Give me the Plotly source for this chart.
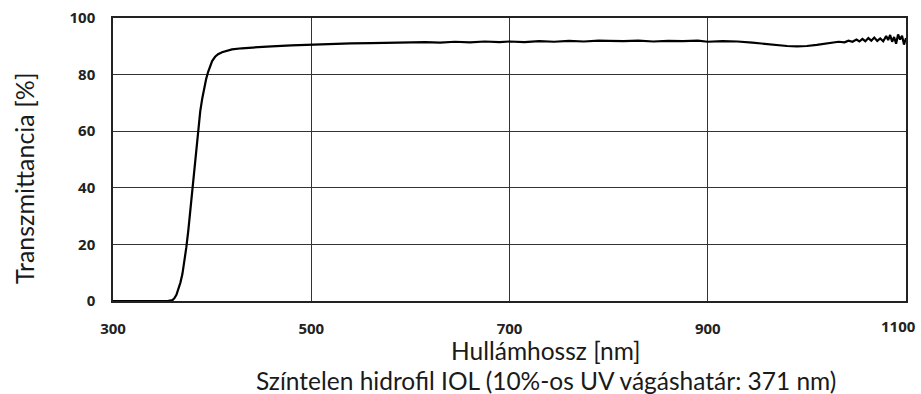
import plotly.graph_objects as go

wavelength = [300, 320, 340, 355, 360, 362, 364, 366, 368, 370, 372, 374, 376, 378, 380, 382, 384, 386,
              388, 390, 392, 394, 396, 398, 400, 403, 406, 410, 415, 420, 430, 440, 460, 480, 500,
              520, 540, 560, 580, 600, 615, 630, 645, 660, 675, 690, 700, 715, 730, 745, 760, 775, 790,
              800, 815, 830, 845, 860, 875, 890, 900, 915, 930, 945, 960, 970, 980, 990, 1000, 1010,
              1020, 1026, 1032, 1038, 1042, 1046, 1050, 1053, 1056, 1059, 1062, 1065, 1068, 1071,
              1074, 1077, 1080, 1082, 1084, 1086, 1088, 1090, 1092, 1094, 1096, 1098, 1100]
transmittance = [0, 0, 0, 0, 0.3, 1.0, 2.2, 4.0, 6.5, 9.5, 13.5, 19, 25, 32, 40, 48, 55, 61.5,
                 67, 71.5, 75.5, 78.5, 81, 83, 84.8, 86.3, 87.2, 87.9, 88.5, 88.9, 89.3, 89.6, 90.0, 90.3, 90.6,
                 90.8, 91.0, 91.1, 91.3, 91.4, 91.5, 91.3, 91.6, 91.4, 91.7, 91.5, 91.7, 91.5, 91.8, 91.6, 91.9, 91.7, 92.0,
                 91.9, 91.8, 92.0, 91.7, 91.9, 91.8, 92.0, 91.6, 91.8, 91.7, 91.3, 90.8, 90.4, 90.1, 90.0, 90.1, 90.5,
                 91.0, 91.3, 91.6, 91.4, 92.0, 91.6, 92.4, 91.7, 92.6, 91.8, 92.9, 92.0, 93.1, 91.9,
                 92.8, 91.8, 93.6, 92.2, 94.0, 91.6, 93.3, 90.9, 94.2, 92.4, 93.7, 90.6, 92.9]

x_ticks = [300, 500, 700, 900, 1100]
y_ticks = [0, 20, 40, 60, 80, 100]
x_ticktext = ["300", "500", "700", "900", ""]
last_x_label = "1100"
y_ticktext = ["0", "20", "40", "60", "80", "100"]

x_title = "Hullámhossz [nm]"
y_title = "Transzmittancia [%]"
caption = "Színtelen hidrofil IOL (10%-os UV vágáshatár: 371 nm)"

fig = go.Figure()
fig.add_trace(go.Scatter(x=wavelength, y=transmittance, mode="lines",
                         line=dict(color="black", width=2.2), hoverinfo="skip"))

tick_font = dict(family="Open Sans, DejaVu Sans, sans-serif", size=15, color="#222222", weight="bold")
title_font = dict(family="Lato, Open Sans, sans-serif", size=24.5, color="#1a1a1a")
ytitle_font = dict(family="Lato, Open Sans, sans-serif", size=25, color="#1a1a1a")

cx = (546 - 113) / 793

fig.update_layout(
    width=921, height=394,
    margin=dict(l=113, r=15, t=18, b=93, autoexpand=False),
    paper_bgcolor="white", plot_bgcolor="white",
    showlegend=False,
    xaxis=dict(range=[300, 1100], tickvals=x_ticks, ticktext=x_ticktext,
               showgrid=True, gridcolor="#333333", gridwidth=1,
               showline=True, linecolor="#222222", linewidth=1.5, mirror=True,
               zeroline=False, ticks="", tickfont=tick_font, ticklabelstandoff=13),
    yaxis=dict(range=[0, 100], tickvals=y_ticks, ticktext=y_ticktext,
               showgrid=True, gridcolor="#333333", gridwidth=1,
               showline=True, linecolor="#222222", linewidth=1.5, mirror=True,
               zeroline=False, ticks="", tickfont=tick_font, ticklabelstandoff=13),
    annotations=[
        dict(text=last_x_label, xref="x", yref="paper", x=x_ticks[-1], y=0,
             xanchor="right", xshift=12, yanchor="middle", yshift=-25,
             showarrow=False, font=tick_font),
        dict(text=x_title, xref="paper", yref="paper", x=cx, y=0,
             yshift=-49, showarrow=False, font=title_font, xanchor="center", yanchor="middle"),
        dict(text=caption, xref="paper", yref="paper", x=cx, y=0,
             yshift=-79, showarrow=False, font=title_font, xanchor="center", yanchor="middle"),
        dict(text=y_title, xref="paper", yref="paper", x=0, y=(301 - 178) / 283, xshift=-89,
             textangle=-90, showarrow=False, font=ytitle_font, xanchor="center", yanchor="middle"),
    ],
)

fig.write_html("out.html", config={"displayModeBar": False},
               post_script="document.body.style.margin='0';document.body.style.overflow='hidden';")
